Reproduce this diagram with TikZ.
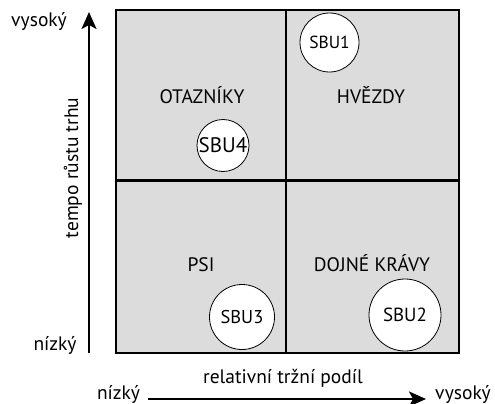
\documentclass[tikz,border=0pt]{standalone}
\usepackage{fontspec}
\setmainfont{PT Sans}
\usetikzlibrary{arrows.meta}
\definecolor{quad}{RGB}{220,220,220}
\tikzset{
  lbl/.style={font=\fontsize{19.5}{21}\selectfont, inner sep=0pt, anchor=base},
  axlbl/.style={font=\fontsize{19.5}{21}\selectfont, inner sep=0pt},
  sbu/.style={circle, draw=black, line width=0.8pt, fill=white, inner sep=0pt},
  axisarrow/.style={line width=2.5pt, -{Stealth[length=17pt,width=15pt,inset=4pt]}},
  frame/.style={line width=2.7pt}
}
\begin{document}
\begin{tikzpicture}[x=1pt,y=-1pt]
\useasboundingbox (0,0) rectangle (495,404);
% matrix
\fill[quad] (116,10) rectangle (459,353);
\draw[frame] (116,10) rectangle (459,353);
\draw[frame] (286,10) -- (286,353);
\draw[frame] (116,180.5) -- (459,180.5);
% quadrant labels
\node[lbl] (otaz) at (202,103.3) {OTAZNÍKY};
\node[lbl] (hvez) at (371,103.3) {HVĚZDY};
\node[lbl] (psi) at (201,271) {PSI};
\node[lbl] (dojne) at (372,271) {DOJNÉ KRÁVY};
% SBU circles
\node[sbu, minimum size=59pt, font=\fontsize{17.5}{19}\selectfont] (sbu1) at (329.5,42.5) {SBU1};
\node[sbu, minimum size=52pt, font=\fontsize{21}{23}\selectfont] (sbu4) at (223,145.5) {SBU4};
\node[sbu, minimum size=65pt, font=\fontsize{18.5}{20}\selectfont] (sbu3) at (242,317) {SBU3};
\node[sbu, minimum size=72pt, font=\fontsize{19}{21}\selectfont] (sbu2) at (405,315) {SBU2};
% vertical axis
\coordinate (vlow) at (89,353);
\coordinate (vhigh) at (89,12);
\draw[axisarrow] (vlow) -- (vhigh);
\node[axlbl] (vysokyL) at (39,21) {vysoký};
\node[axlbl] (nizkyL) at (55,345) {nízký};
\node[axlbl, rotate=90] (tempo) at (73,168) {tempo růstu trhu};
% horizontal axis
\coordinate (hlow) at (148,399);
\coordinate (hhigh) at (426,399);
\draw[axisarrow] (hlow) -- (hhigh);
\node[axlbl] (nizkyB) at (118.5,394) {nízký};
\node[axlbl] (vysokyB) at (463,394) {vysoký};
\node[axlbl] (rel) at (283,378) {relativní tržní podíl};
\end{tikzpicture}
\end{document}
